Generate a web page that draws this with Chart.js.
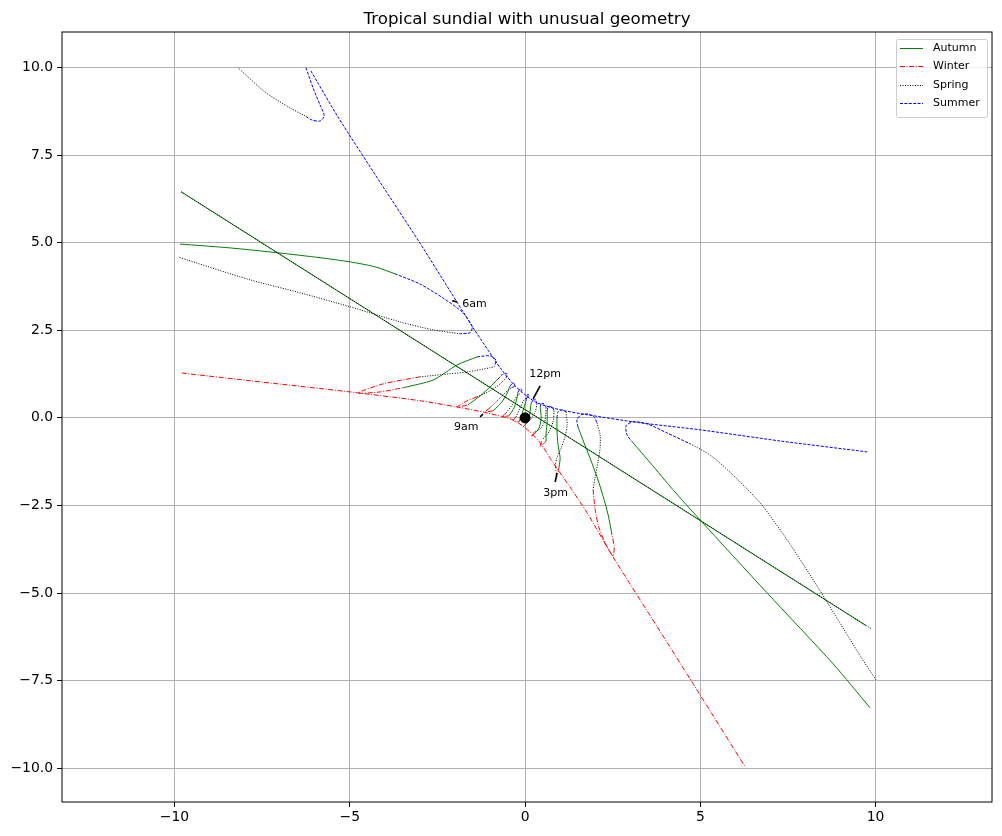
<!DOCTYPE html>
<html lang="en">
<head>
    <meta charset="UTF-8">
    <title>Tropical sundial with unusual geometry</title>
    <script src="https://cdn.jsdelivr.net/npm/chart.js"></script>
</head>
<body style="margin: 0; background: white;">
    <div style="width: 1002px; height: 836px;">
        <canvas id="dial" width="1002" height="836"></canvas>
    </div>

    <script>
        // axis ticks
        const xTicks = [-10, -5, 0, 5, 10];
        const yTicks = [-10, -7.5, -5, -2.5, 0, 2.5, 5, 7.5, 10];

        // each season: list of strokes, each stroke a list of [x, y]
        const autumn = [
            [[-9.81, 6.45], [9.73, -5.93]],                                   // equinox line
            [[-9.84, 4.96], [-8.42, 4.85], [-7.05, 4.71], [-5.85, 4.57], [-4.99, 4.45], [-4.28, 4.31], [-3.71, 4.11]], // 6am
            [[-3.48, 0.86], [-2.62, 1.08], [-1.94, 1.51], [-1.37, 1.74]],    // 7am
            [[-1.63, 0.37], [-1.28, 0.63], [-1.00, 0.88], [-0.77, 1.11]],    // 8am
            [[-0.91, 0.20], [-0.68, 0.43], [-0.51, 0.71], [-0.43, 0.91]],    // 9am
            [[-0.46, 0.06], [-0.31, 0.29], [-0.23, 0.57], [-0.20, 0.74]],    // 10am
            [[-0.17, -0.11], [-0.06, 0.20], [0.03, 0.49]],                   // 11am
            [[0.17, 0.40], [0.14, 0.17], [0.09, -0.06], [0.03, -0.17]],      // 12pm
            [[0.43, 0.29], [0.46, 0.00], [0.40, -0.29], [0.29, -0.43]],      // 1pm
            [[0.63, 0.20], [0.63, -0.11], [0.60, -0.43], [0.60, -0.66]],     // 2pm
            [[0.91, 0.00], [0.91, -0.34], [0.94, -0.77], [1.00, -1.14], [0.97, -1.40]], // 3pm
            [[1.51, -0.26], [1.65, -0.63], [1.85, -1.14], [2.05, -1.68], [2.23, -2.25], [2.37, -2.77], [2.48, -3.34]], // 4pm
            [[3.08, -0.71], [3.57, -1.28], [4.22, -2.05], [4.99, -2.91], [6.90, -4.99], [8.79, -7.02], [9.84, -8.27]] // 5pm
        ];

        const winter = [
            [[-9.79, 1.28], [-7.85, 1.06], [-4.99, 0.74], [-3.00, 0.49], [-1.94, 0.31], [-1.08, 0.14], [-0.34, -0.06],
             [0.14, -0.40], [0.43, -0.71], [0.80, -1.28], [1.28, -1.97], [1.77, -2.71], [2.51, -3.97], [3.77, -5.96],
             [4.99, -7.90], [6.28, -9.96]],                                   // winter solstice line
            [[-3.00, 1.17], [-4.05, 0.97], [-4.76, 0.71], [-4.14, 0.74], [-3.48, 0.86]], // 7am
            [[-1.37, 0.60], [-1.65, 0.49], [-1.94, 0.31], [-1.63, 0.37]],    // 8am
            [[-1.00, 0.29], [-1.14, 0.17], [-0.91, 0.20]],                   // 9am
            [[-0.54, 0.14], [-0.66, 0.03], [-0.46, 0.06]],                   // 10am
            [[-0.26, 0.03], [-0.34, -0.09], [-0.17, -0.11]],                 // 11am
            [[0.03, -0.17], [-0.06, -0.26], [0.06, -0.14]],                  // 12pm
            [[0.29, -0.43], [0.17, -0.54], [0.26, -0.40]],                   // 1pm
            [[0.60, -0.66], [0.43, -0.83], [0.49, -0.63]],                   // 2pm
            [[0.97, -1.40], [0.91, -1.68], [0.86, -1.34]],                   // 3pm
            [[1.94, -2.05], [2.00, -2.62], [2.11, -3.14], [2.31, -3.62], [2.51, -3.94], [2.54, -3.68], [2.48, -3.34]] // 4pm
        ];

        const spring = [
            [[-9.81, 6.45], [9.90, -6.03]],                                   // equinox line
            [[-6.28, 8.62], [-6.70, 8.84], [-7.42, 9.30], [-8.19, 9.99]],    // 5am
            [[-1.85, 2.40], [-2.62, 2.51], [-3.57, 2.74], [-4.99, 3.17], [-6.42, 3.57], [-7.85, 3.94], [-9.90, 4.59]], // 6am
            [[-3.00, 1.17], [-2.43, 1.23], [-1.65, 1.31], [-1.00, 1.43], [-0.88, 1.46]], // 7am
            [[-1.37, 0.60], [-1.00, 0.77], [-0.71, 0.97], [-0.54, 1.14]],    // 8am
            [[-1.00, 0.29], [-0.77, 0.51], [-0.57, 0.71], [-0.40, 0.86]],    // 9am
            [[-0.54, 0.14], [-0.37, 0.37], [-0.23, 0.63], [-0.11, 0.71]],    // 10am
            [[-0.26, 0.03], [-0.14, 0.29], [-0.03, 0.51], [0.09, 0.60]],     // 11am
            [[0.34, 0.40], [0.29, 0.17], [0.14, -0.06], [0.06, -0.14]],      // 12pm
            [[0.60, 0.29], [0.57, -0.06], [0.46, -0.29], [0.26, -0.40]],     // 1pm
            [[0.83, 0.20], [0.80, -0.11], [0.68, -0.40], [0.49, -0.63]],     // 2pm
            [[1.17, 0.17], [1.20, -0.20], [1.14, -0.54], [1.03, -0.86], [0.91, -1.14], [0.86, -1.34]], // 3pm
            [[2.05, -0.14], [2.14, -0.49], [2.14, -0.86], [2.08, -1.26], [2.00, -1.68], [1.94, -2.05]], // 4pm
            [[4.71, -0.74], [5.28, -1.06], [5.93, -1.63], [6.71, -2.43], [7.42, -3.40], [8.13, -4.48], [8.84, -5.62],
             [9.56, -6.79], [10.01, -7.47]]                                   // 5pm
        ];

        const summer = [
            [[-6.11, 9.90], [-5.34, 8.59], [-4.14, 6.73], [-3.00, 4.99], [-2.14, 3.62], [-1.48, 2.57], [-1.06, 1.94],
             [-0.71, 1.43], [-0.34, 0.97], [0.00, 0.66], [0.34, 0.43], [1.00, 0.23], [1.77, 0.09], [3.28, -0.14],
             [4.99, -0.34], [7.28, -0.66], [9.76, -0.97]],                    // summer solstice line
            [[-6.25, 9.99], [-6.05, 9.42], [-5.85, 8.93], [-5.73, 8.62], [-5.85, 8.47], [-6.08, 8.50], [-6.28, 8.62]], // 5am
            [[-3.71, 4.11], [-3.00, 3.82], [-2.34, 3.42], [-1.77, 3.00], [-1.51, 2.60], [-1.57, 2.43], [-1.85, 2.40]], // 6am
            [[-1.37, 1.74], [-1.00, 1.77], [-0.83, 1.65], [-0.88, 1.46]],    // 7am
            [[-0.77, 1.11], [-0.66, 1.23], [-0.51, 1.26], [-0.54, 1.14]],    // 8am
            [[-0.43, 0.91], [-0.34, 1.00], [-0.29, 0.91], [-0.40, 0.86]],    // 9am
            [[-0.20, 0.74], [-0.14, 0.83], [-0.09, 0.80], [-0.11, 0.71]],    // 10am
            [[0.03, 0.49], [0.06, 0.66], [0.11, 0.66], [0.09, 0.60]],        // 11am
            [[0.17, 0.40], [0.23, 0.51], [0.31, 0.51], [0.34, 0.40]],        // 12pm
            [[0.43, 0.29], [0.46, 0.40], [0.54, 0.40], [0.60, 0.29]],        // 1pm
            [[0.63, 0.20], [0.66, 0.31], [0.77, 0.31], [0.83, 0.20]],        // 2pm
            [[0.91, 0.00], [0.94, 0.17], [1.06, 0.23], [1.17, 0.17]],        // 3pm
            [[1.51, -0.26], [1.48, -0.06], [1.60, 0.09], [1.80, 0.11], [1.97, 0.03], [2.05, -0.14]], // 4pm
            [[3.08, -0.71], [2.91, -0.49], [2.88, -0.23], [3.08, -0.11], [3.48, -0.17], [4.05, -0.43], [4.71, -0.74]] // 5pm
        ];

        // gnomon foot
        const gnomon = [[0, 0]];

        // hour annotations
        const hourNames = ['6am', '9am', '12pm', '3pm'];
        const hourTextAt = [[-1.44, 3.25], [-1.68, -0.26], [0.57, 1.26], [0.87, -2.14]];
        const hourArrowFrom = [[-2.08, 3.34], [-1.28, 0.03], [0.43, 0.91], [0.86, -1.83]];
        const hourArrowTo = [[-1.94, 3.31], [-1.20, 0.11], [0.23, 0.54], [0.91, -1.57]];

        const FONT = '"DejaVu Sans", sans-serif';

        const seasons = [
            { name: 'Autumn', lines: autumn, color: '#008000', dash: [], order: 2 },
            { name: 'Winter', lines: winter, color: '#ff0000', dash: [5, 1.6, 1, 1.6], order: 3 },
            { name: 'Spring', lines: spring, color: '#000000', dash: [1, 1.5], order: 1 },
            { name: 'Summer', lines: summer, color: '#0000ff', dash: [3, 1.4], order: 4 }
        ];

        const datasets = [{
            label: 'gnomon',
            data: gnomon.map(p => ({ x: p[0], y: p[1] })),
            showLine: false,
            pointRadius: 5,
            pointBackgroundColor: '#000',
            pointBorderColor: '#000',
            order: 0
        }];

        seasons.forEach(s => {
            s.lines.forEach(pts => {
                datasets.push({
                    label: s.name,
                    data: pts.map(p => ({ x: p[0], y: p[1] })),
                    showLine: true,
                    borderColor: s.color,
                    borderDash: s.dash,
                    borderWidth: 1,
                    pointRadius: 0,
                    tension: 0.25,
                    fill: false,
                    order: s.order
                });
            });
        });

        // frame, title, hour labels and legend are drawn by hand like matplotlib does
        const decorations = {
            id: 'decorations',
            afterDraw(chart) {
                const ctx = chart.ctx;
                const area = chart.chartArea;
                const xs = chart.scales.x, ys = chart.scales.y;
                ctx.save();

                // axes frame
                ctx.strokeStyle = '#000';
                ctx.lineWidth = 1;
                ctx.setLineDash([]);
                ctx.strokeRect(area.left, area.top, area.right - area.left, area.bottom - area.top);

                // title
                ctx.fillStyle = '#000';
                ctx.font = '16.7px ' + FONT;
                ctx.textAlign = 'center';
                ctx.textBaseline = 'alphabetic';
                ctx.fillText('Tropical sundial with unusual geometry', (area.left + area.right) / 2, 24);

                // hour annotations
                ctx.font = '11px ' + FONT;
                ctx.textBaseline = 'middle';
                hourNames.forEach((name, i) => {
                    ctx.lineWidth = 1.6;
                    ctx.beginPath();
                    ctx.moveTo(xs.getPixelForValue(hourArrowFrom[i][0]), ys.getPixelForValue(hourArrowFrom[i][1]));
                    ctx.lineTo(xs.getPixelForValue(hourArrowTo[i][0]), ys.getPixelForValue(hourArrowTo[i][1]));
                    ctx.stroke();
                    ctx.fillText(name, xs.getPixelForValue(hourTextAt[i][0]), ys.getPixelForValue(hourTextAt[i][1]));
                });

                // legend box
                const w = 91, h = 78;
                const x0 = area.right - w - 5, y0 = area.top + 7;
                ctx.fillStyle = 'rgba(255,255,255,0.8)';
                ctx.strokeStyle = '#cccccc';
                ctx.lineWidth = 1;
                ctx.beginPath();
                ctx.roundRect(x0 + 0.5, y0 + 0.5, w, h, 2);
                ctx.fill();
                ctx.stroke();

                ctx.font = '11px ' + FONT;
                ctx.textAlign = 'left';
                seasons.forEach((s, i) => {
                    const y = Math.round(y0 + 9 + i * 18.3) + 0.5;
                    ctx.strokeStyle = s.color;
                    ctx.lineWidth = 1;
                    ctx.setLineDash(s.dash);
                    ctx.beginPath();
                    ctx.moveTo(x0 + 4, y);
                    ctx.lineTo(x0 + 27, y);
                    ctx.stroke();
                    ctx.setLineDash([]);
                    ctx.fillStyle = '#000';
                    ctx.fillText(s.name, x0 + 37, y);
                });

                ctx.restore();
            }
        };

        function tickLabel(v, digits) {
            const s = Math.abs(v).toFixed(digits);
            return v < 0 ? '\u2212' + s : s;
        }

        new Chart(document.getElementById('dial'), {
            type: 'scatter',
            data: { datasets: datasets },
            options: {
                responsive: false,
                animation: false,
                events: [],
                layout: { padding: { top: 32, right: 10, left: 0, bottom: 0 } },
                plugins: {
                    legend: { display: false },
                    tooltip: { enabled: false },
                    title: { display: false }
                },
                scales: {
                    x: {
                        type: 'linear',
                        min: -13.21,
                        max: 13.32,
                        afterBuildTicks: s => { s.ticks = xTicks.map(v => ({ value: v })); },
                        afterFit: s => { s.height = 34; },
                        border: { display: false },
                        grid: { color: '#b0b0b0', lineWidth: 1, tickColor: '#000', tickLength: 5, tickWidth: 1 },
                        ticks: {
                            color: '#000',
                            font: { family: FONT, size: 13.9 },
                            padding: 2,
                            maxRotation: 0,
                            callback: v => tickLabel(v, 0)
                        }
                    },
                    y: {
                        type: 'linear',
                        min: -10.96,
                        max: 11.01,
                        afterBuildTicks: s => { s.ticks = yTicks.map(v => ({ value: v })); },
                        afterFit: s => { s.width = 62; },
                        border: { display: false },
                        grid: { color: '#b0b0b0', lineWidth: 1, tickColor: '#000', tickLength: 5, tickWidth: 1 },
                        ticks: {
                            color: '#000',
                            font: { family: FONT, size: 13.9 },
                            padding: 4,
                            callback: v => tickLabel(v, 1)
                        }
                    }
                }
            },
            plugins: [decorations]
        });
    </script>
</body>
</html>
